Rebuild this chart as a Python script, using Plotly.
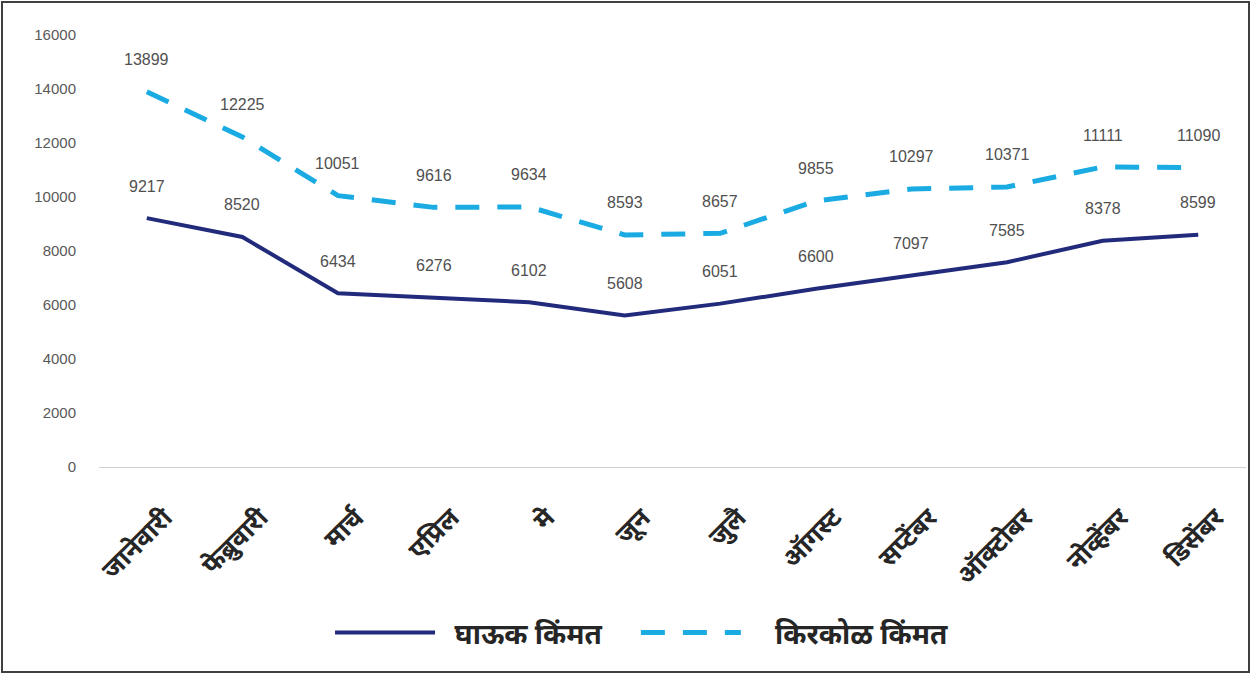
import plotly.graph_objects as go

months = ["जानेवारी", "फेब्रुवारी", "मार्च", "एप्रिल", "मे", "जून", "जुलै",
          "ऑगस्ट", "सप्टेंबर", "ऑक्टोबर", "नोव्हेंबर", "डिसेंबर"]
wholesale = [9217, 8520, 6434, 6276, 6102, 5608, 6051, 6600, 7097, 7585, 8378, 8599]
retail = [13899, 12225, 10051, 9616, 9634, 8593, 8657, 9855, 10297, 10371, 11111, 11090]
y_ticks = [0, 2000, 4000, 6000, 8000, 10000, 12000, 14000, 16000]
y_tick_text = [str(v) for v in y_ticks]

name_wholesale = "\u00a0\u00a0घाऊक किंमत\u00a0\u00a0\u00a0\u00a0"
name_retail = "\u00a0\u00a0\u00a0\u00a0किरकोळ किंमत"

W, H = 1252, 675
ml, mr, mt, mb = 99, 6, 35, 208

fig = go.Figure()
fig.add_trace(go.Scatter(x=months, y=wholesale, mode="lines", name=name_wholesale,
                         line=dict(color="#222a7c", width=4)))
fig.add_trace(go.Scatter(x=months, y=retail, mode="lines", name=name_retail,
                         line=dict(color="#1aabe2", width=5, dash="24px,18px")))

lab_font = dict(family="Liberation Sans, Arial", size=16, color="#505050")
ann = []
for m, v in zip(months, wholesale):
    ann.append(dict(x=m, y=v, text=str(v), showarrow=False, yshift=32, font=lab_font))
for m, v in zip(months, retail):
    ann.append(dict(x=m, y=v, text=str(v), showarrow=False, yshift=32, font=lab_font))

pw = W - ml - mr
ph = H - mt - mb
bx0 = (2 - ml) / pw
bx1 = (W - 3 - ml) / pw
by0 = -(mb - 3) / ph
by1 = (ph + mt - 2) / ph

dev_font = "Noto Sans Devanagari, Noto Sans, sans-serif"

fig.update_layout(
    width=W, height=H,
    margin=dict(l=ml, r=mr, t=mt, b=mb),
    paper_bgcolor="white", plot_bgcolor="white",
    annotations=ann,
    showlegend=True,
    legend=dict(orientation="h", x=0.473, xanchor="center", y=-0.384, yanchor="middle",
                font=dict(family=dev_font, size=28, color="#262626", weight="bold"),
                itemwidth=100, traceorder="normal"),
    xaxis=dict(type="category", range=[-0.5, 11.5], tickangle=-45, showgrid=False, showline=True,
               linecolor="#d0d0d0", linewidth=1, ticks="", ticklabelstandoff=24,
               ticklabelshift=18,
               tickfont=dict(family=dev_font, size=26, color="#262626", weight="bold")),
    yaxis=dict(range=[0, 16000], tickvals=y_ticks, ticktext=y_tick_text, showgrid=False,
               zeroline=False, ticks="", ticklabelstandoff=22,
               tickfont=dict(family="Liberation Sans, Arial", size=15, color="#595959")),
    shapes=[dict(type="rect", xref="paper", yref="paper", x0=bx0, x1=bx1, y0=by0, y1=by1,
                 line=dict(color="#404040", width=2), fillcolor="rgba(0,0,0,0)", layer="above")],
)
fig.write_html("out.html", config={"displayModeBar": False},
               post_script="document.body.style.margin='0';")
